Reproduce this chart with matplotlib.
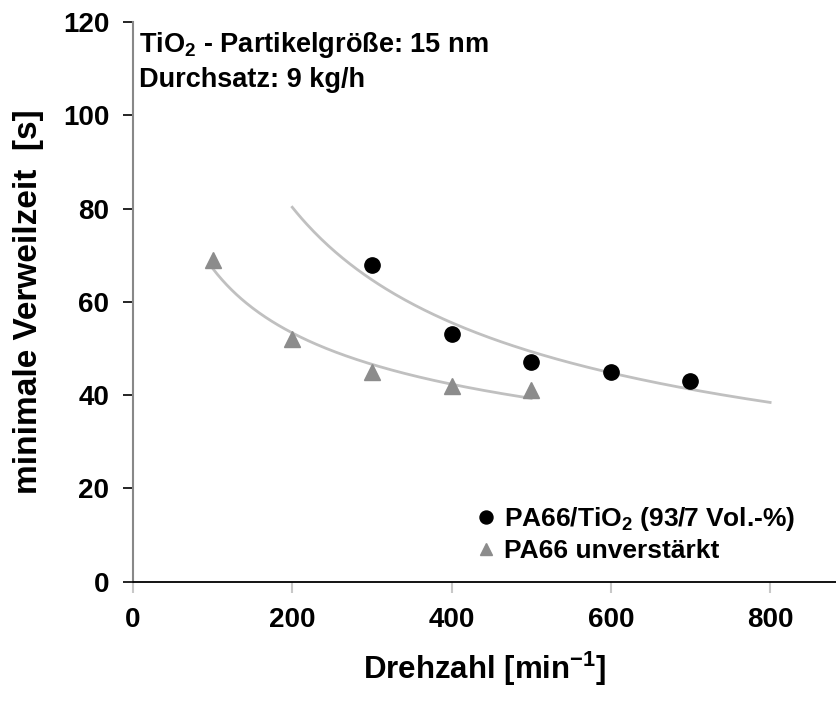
import numpy as np
import matplotlib
matplotlib.use("Agg")
import matplotlib.pyplot as plt

plt.rcParams['font.family'] = ['Liberation Sans', 'DejaVu Sans']
plt.rcParams['font.weight'] = 'bold'
plt.rcParams['mathtext.fontset'] = 'custom'
plt.rcParams['mathtext.rm'] = 'Liberation Sans:bold'
plt.rcParams['mathtext.bf'] = 'Liberation Sans:bold'
plt.rcParams['mathtext.it'] = 'Liberation Sans:bold'
plt.rcParams['mathtext.default'] = 'bf'

# Data
drehzahl_tio2 = [300, 400, 500, 600, 700]
verweil_tio2 = [68, 53, 47, 45, 43]
drehzahl_pa66 = [100, 200, 300, 400, 500]
verweil_pa66 = [69, 52, 45, 42, 41]
fit_range_tio2 = (200, 800)
fit_range_pa66 = (100, 500)
label_tio2 = r"PA66/TiO$_{2}$ (93/7 Vol.-%)"
label_pa66 = "PA66 unverstärkt"
x_ticks = [0, 200, 400, 600, 800]
y_ticks = [0, 20, 40, 60, 80, 100, 120]

fig = plt.figure(figsize=(8.37, 7.02), dpi=100)
ax = fig.add_axes([133/837, 120.3/702, (837-133)/837, (581.7-22)/702])

def power_fit(x, y, rng):
    b, ln_a = np.polyfit(np.log(x), np.log(y), 1)
    xx = np.linspace(rng[0], rng[1], 200)
    return xx, np.exp(ln_a) * xx ** b

xx, yy = power_fit(drehzahl_tio2, verweil_tio2, fit_range_tio2)
ax.plot(xx, yy, color='#c0c0c0', lw=2.0, zorder=1)
xx, yy = power_fit(drehzahl_pa66, verweil_pa66, fit_range_pa66)
ax.plot(xx, yy, color='#c0c0c0', lw=2.0, zorder=1)

ax.plot(drehzahl_tio2, verweil_tio2, 'o', color='black', ms=11, zorder=3, label=label_tio2)
ax.plot(drehzahl_pa66, verweil_pa66, '^', color='#8c8c8c', ms=11, zorder=3, label=label_pa66)

ax.set_xlim(0, 884)
ax.set_ylim(0, 120)
ax.set_xticks(x_ticks)
ax.set_yticks(y_ticks)

for s in ['top', 'right']:
    ax.spines[s].set_visible(False)
ax.spines['left'].set_color('#888888')
ax.spines['left'].set_linewidth(1.5)
ax.spines['bottom'].set_color('black')
ax.spines['bottom'].set_linewidth(1.3)

ax.tick_params(axis='y', direction='out', length=7, width=1.2, color='black',
               labelsize=20, pad=10)
ax.tick_params(axis='x', direction='out', length=8, width=1.5, color='#c8c8c8',
               labelsize=20, pad=10)
for lab in ax.get_xticklabels() + ax.get_yticklabels():
    lab.set_fontweight('bold')

ax.set_xlabel(r"Drehzahl [min$^{-1}$]", fontsize=22.5, fontweight='bold', labelpad=12)
ax.set_ylabel("minimale Verweilzeit  [s]", fontsize=24, fontweight='bold', labelpad=14)

ax.text(0.008, 0.959, r"TiO$_{2}$ - Partikelgröße: 15 nm", transform=ax.transAxes,
        fontsize=19.5, fontweight='bold', va='center', ha='left')
ax.text(0.008, 0.896, "Durchsatz: 9 kg/h", transform=ax.transAxes,
        fontsize=19.5, fontweight='bold', va='center', ha='left')

leg = ax.legend(loc='center left', bbox_to_anchor=(0.489, 0.085), frameon=False,
                handletextpad=0.3, handlelength=0.7, markerscale=0.85,
                borderpad=0, borderaxespad=0, labelspacing=0.2,
                prop={'weight': 'bold', 'size': 19})

fig.savefig("out.png", dpi=100)
